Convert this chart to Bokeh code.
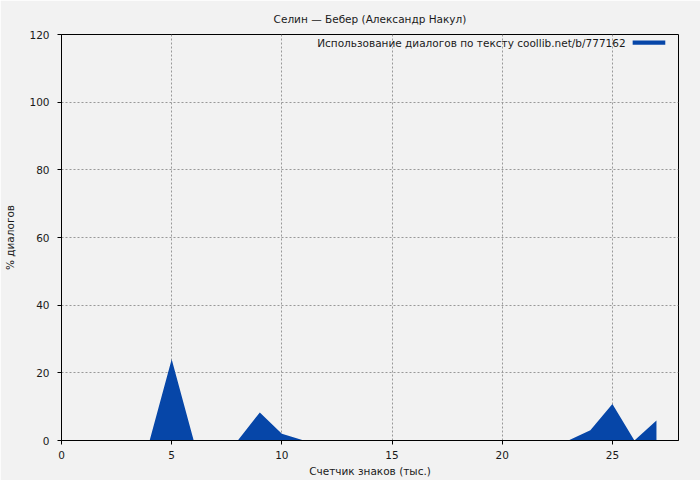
from bokeh.plotting import figure
from bokeh.embed import file_html
from bokeh.resources import INLINE
from bokeh.models import Label, BoxAnnotation, Range1d, FixedTicker

# data
chars_k = list(range(0, 28))
dialog_pct = [0, 0, 0, 0, 0, 24, 0, 0, 0, 8.3, 2, 0, 0, 0, 0, 0, 0, 0, 0, 0,
              0, 0, 0, 0, 3, 10.8, 0, 5.9]
x_ticks = [0, 5, 10, 15, 20, 25]
y_ticks = [0, 20, 40, 60, 80, 100, 120]
title_text = "Селин — Бебер (Александр Накул)"
legend_text = "Использование диалогов по тексту coollib.net/b/777162"
x_label = "Счетчик знаков (тыс.)"
y_label = "% диалогов"

FONT = "DejaVu Sans"
FS = "10.5px"
BG = "#f2f2f2"
FILL = "#0646a8"
TXT = "#1a1a1a"

p = figure(width=700, height=480, output_backend="svg", toolbar_location=None,
           x_range=Range1d(0, 28), y_range=Range1d(0, 120),
           min_border_left=61, min_border_right=22, min_border_top=34, min_border_bottom=40)
p.background_fill_color = BG
p.border_fill_color = BG
p.outline_line_color = "black"
p.outline_line_width = 1

p.title.text = title_text
p.title.align = "center"
p.title.text_font = FONT
p.title.text_font_size = FS
p.title.text_font_style = "normal"
p.title.text_color = TXT
p.title.standoff = 20

p.varea(x=chars_k, y1=[0] * len(chars_k), y2=dialog_pct, fill_color=FILL)

for ax, ticks in ((p.xaxis[0], x_ticks), (p.yaxis[0], y_ticks)):
    ax.ticker = FixedTicker(ticks=ticks)
    ax.minor_tick_line_color = None
    ax.major_tick_out = 4
    ax.major_tick_in = 0
    ax.axis_line_color = "black"
    ax.major_tick_line_color = "black"
    ax.major_label_text_font = FONT
    ax.major_label_text_font_size = FS
    ax.major_label_text_color = TXT
    ax.axis_label_text_font = FONT
    ax.axis_label_text_font_size = FS
    ax.axis_label_text_font_style = "normal"
    ax.axis_label_text_color = TXT

p.xaxis.axis_label = x_label
p.yaxis.axis_label = y_label
p.xaxis.major_label_standoff = 6
p.xaxis.axis_label_standoff = 3
p.yaxis.major_label_standoff = 8
p.yaxis.axis_label_standoff = 10

p.xgrid.ticker = FixedTicker(ticks=x_ticks)
p.ygrid.ticker = FixedTicker(ticks=y_ticks)
for g in (p.xgrid[0], p.ygrid[0]):
    g.grid_line_color = "#999999"
    g.grid_line_dash = "2 2"
    g.grid_line_width = 1

# gnuplot-style key: text right-aligned, swatch to the right
p.add_layout(Label(x=25.6, y=117.6, text=legend_text, text_align="right",
                   text_baseline="middle", text_font=FONT,
                   text_font_size=FS, text_color=TXT))
p.add_layout(BoxAnnotation(left=25.92, right=27.4, bottom=117.0, top=118.2,
                           fill_color=FILL, fill_alpha=1, line_color=None))

open("out.html", "w").write(file_html(p, INLINE))
